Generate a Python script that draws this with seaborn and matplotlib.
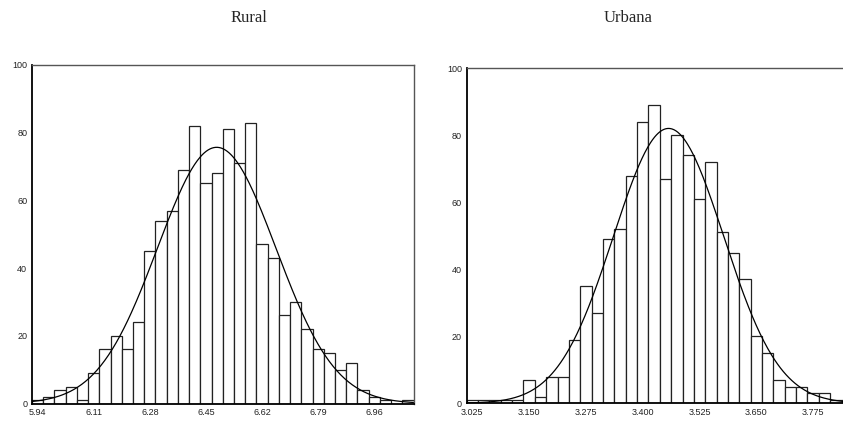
import numpy as np
import pandas as pd
import matplotlib
matplotlib.use("Agg")
import matplotlib.pyplot as plt
import seaborn as sns

# ---- data ----
rural_counts = [1, 2, 4, 5, 1, 9, 16, 20, 16, 24, 45, 54, 57, 69, 82, 65, 68,
                81, 71, 83, 47, 43, 26, 30, 22, 16, 15, 10, 12, 4, 2, 1, 0, 1]
rural_first_center = 5.94
rural_bin_width = 0.034
rural_ticks = [5.94, 6.11, 6.28, 6.45, 6.62, 6.79, 6.96]
rural_tick_labels = ["5.94", "6.11", "6.28", "6.45", "6.62", "6.79", "6.96"]

urbana_counts = [1, 1, 1, 1, 1, 7, 2, 8, 8, 19, 35, 27, 49, 52, 68, 84, 89,
                 67, 80, 74, 61, 72, 51, 45, 37, 20, 15, 7, 5, 5, 3, 3, 1, 1]
urbana_first_center = 3.025
urbana_bin_width = 0.025
urbana_ticks = [3.025, 3.150, 3.275, 3.400, 3.525, 3.650, 3.775]
urbana_tick_labels = ["3.025", "3.150", "3.275", "3.400", "3.525", "3.650", "3.775"]

y_ticks = [0, 20, 40, 60, 80, 100]
titles = ["Rural", "Urbana"]

sns.set_style("white")
plt.rcParams["font.family"] = ["Liberation Sans", "DejaVu Sans"]

W, H = 843, 421
fig = plt.figure(figsize=(W / 100, H / 100), dpi=100)


def px_axes(x0, y_top, x1, y_bot):
    return fig.add_axes([x0 / W, 1 - y_bot / H, (x1 - x0) / W, (y_bot - y_top) / H])


def draw(ax, counts, first_center, bw, ticks, tick_labels):
    counts = np.asarray(counts, dtype=float)
    n = len(counts)
    centers = first_center + bw * np.arange(n)
    edges = [float(c - bw / 2) for c in centers] + [float(centers[-1] + bw / 2)]
    df = pd.DataFrame({"x": centers, "w": counts})
    sns.histplot(data=df, x="x", weights="w", bins=edges, stat="count",
                 color="white", edgecolor="#222222", linewidth=0.9,
                 alpha=1.0, ax=ax)
    # fitted normal curve (as drawn by the original software)
    N = counts.sum()
    mean = (counts * centers).sum() / N
    sd = np.sqrt((counts * (centers - mean) ** 2).sum() / N)
    xs = np.linspace(edges[0], edges[-1], 400)
    ys = N * bw * np.exp(-0.5 * ((xs - mean) / sd) ** 2) / (sd * np.sqrt(2 * np.pi))
    sns.lineplot(x=xs, y=ys, color="black", linewidth=0.9, ax=ax)
    ax.set_xlim(edges[0], edges[-1])
    ax.set_ylim(0, 100)
    ax.set_xticks(ticks)
    ax.set_xticklabels(tick_labels)
    ax.set_yticks(y_ticks)
    ax.set_yticklabels([str(t) for t in y_ticks])
    ax.set_xlabel("")
    ax.set_ylabel("")
    ax.tick_params(axis="both", direction="out", length=2, width=1,
                   labelsize=6.5, pad=1.5, colors="#222222")
    for s in ["left", "bottom"]:
        ax.spines[s].set_color("black")
        ax.spines[s].set_linewidth(1.3)
    for s in ["top", "right"]:
        ax.spines[s].set_color("#555555")
        ax.spines[s].set_linewidth(1.0)
    ax.grid(False)


ax1 = px_axes(32, 65, 413.5, 403.5)
draw(ax1, rural_counts, rural_first_center, rural_bin_width,
     rural_ticks, rural_tick_labels)

ax2 = px_axes(466.7, 68.3, 466.7 + 34 * 11.36, 403.3)
draw(ax2, urbana_counts, urbana_first_center, urbana_bin_width,
     urbana_ticks, urbana_tick_labels)

fig.text(249 / W, 1 - 18 / H, titles[0], ha="center", va="center",
         fontsize=12, family=["Liberation Serif", "DejaVu Serif"])
fig.text(628 / W, 1 - 18 / H, titles[1], ha="center", va="center",
         fontsize=12, family=["Liberation Serif", "DejaVu Serif"])

fig.savefig("out.png", dpi=100, facecolor="white")
